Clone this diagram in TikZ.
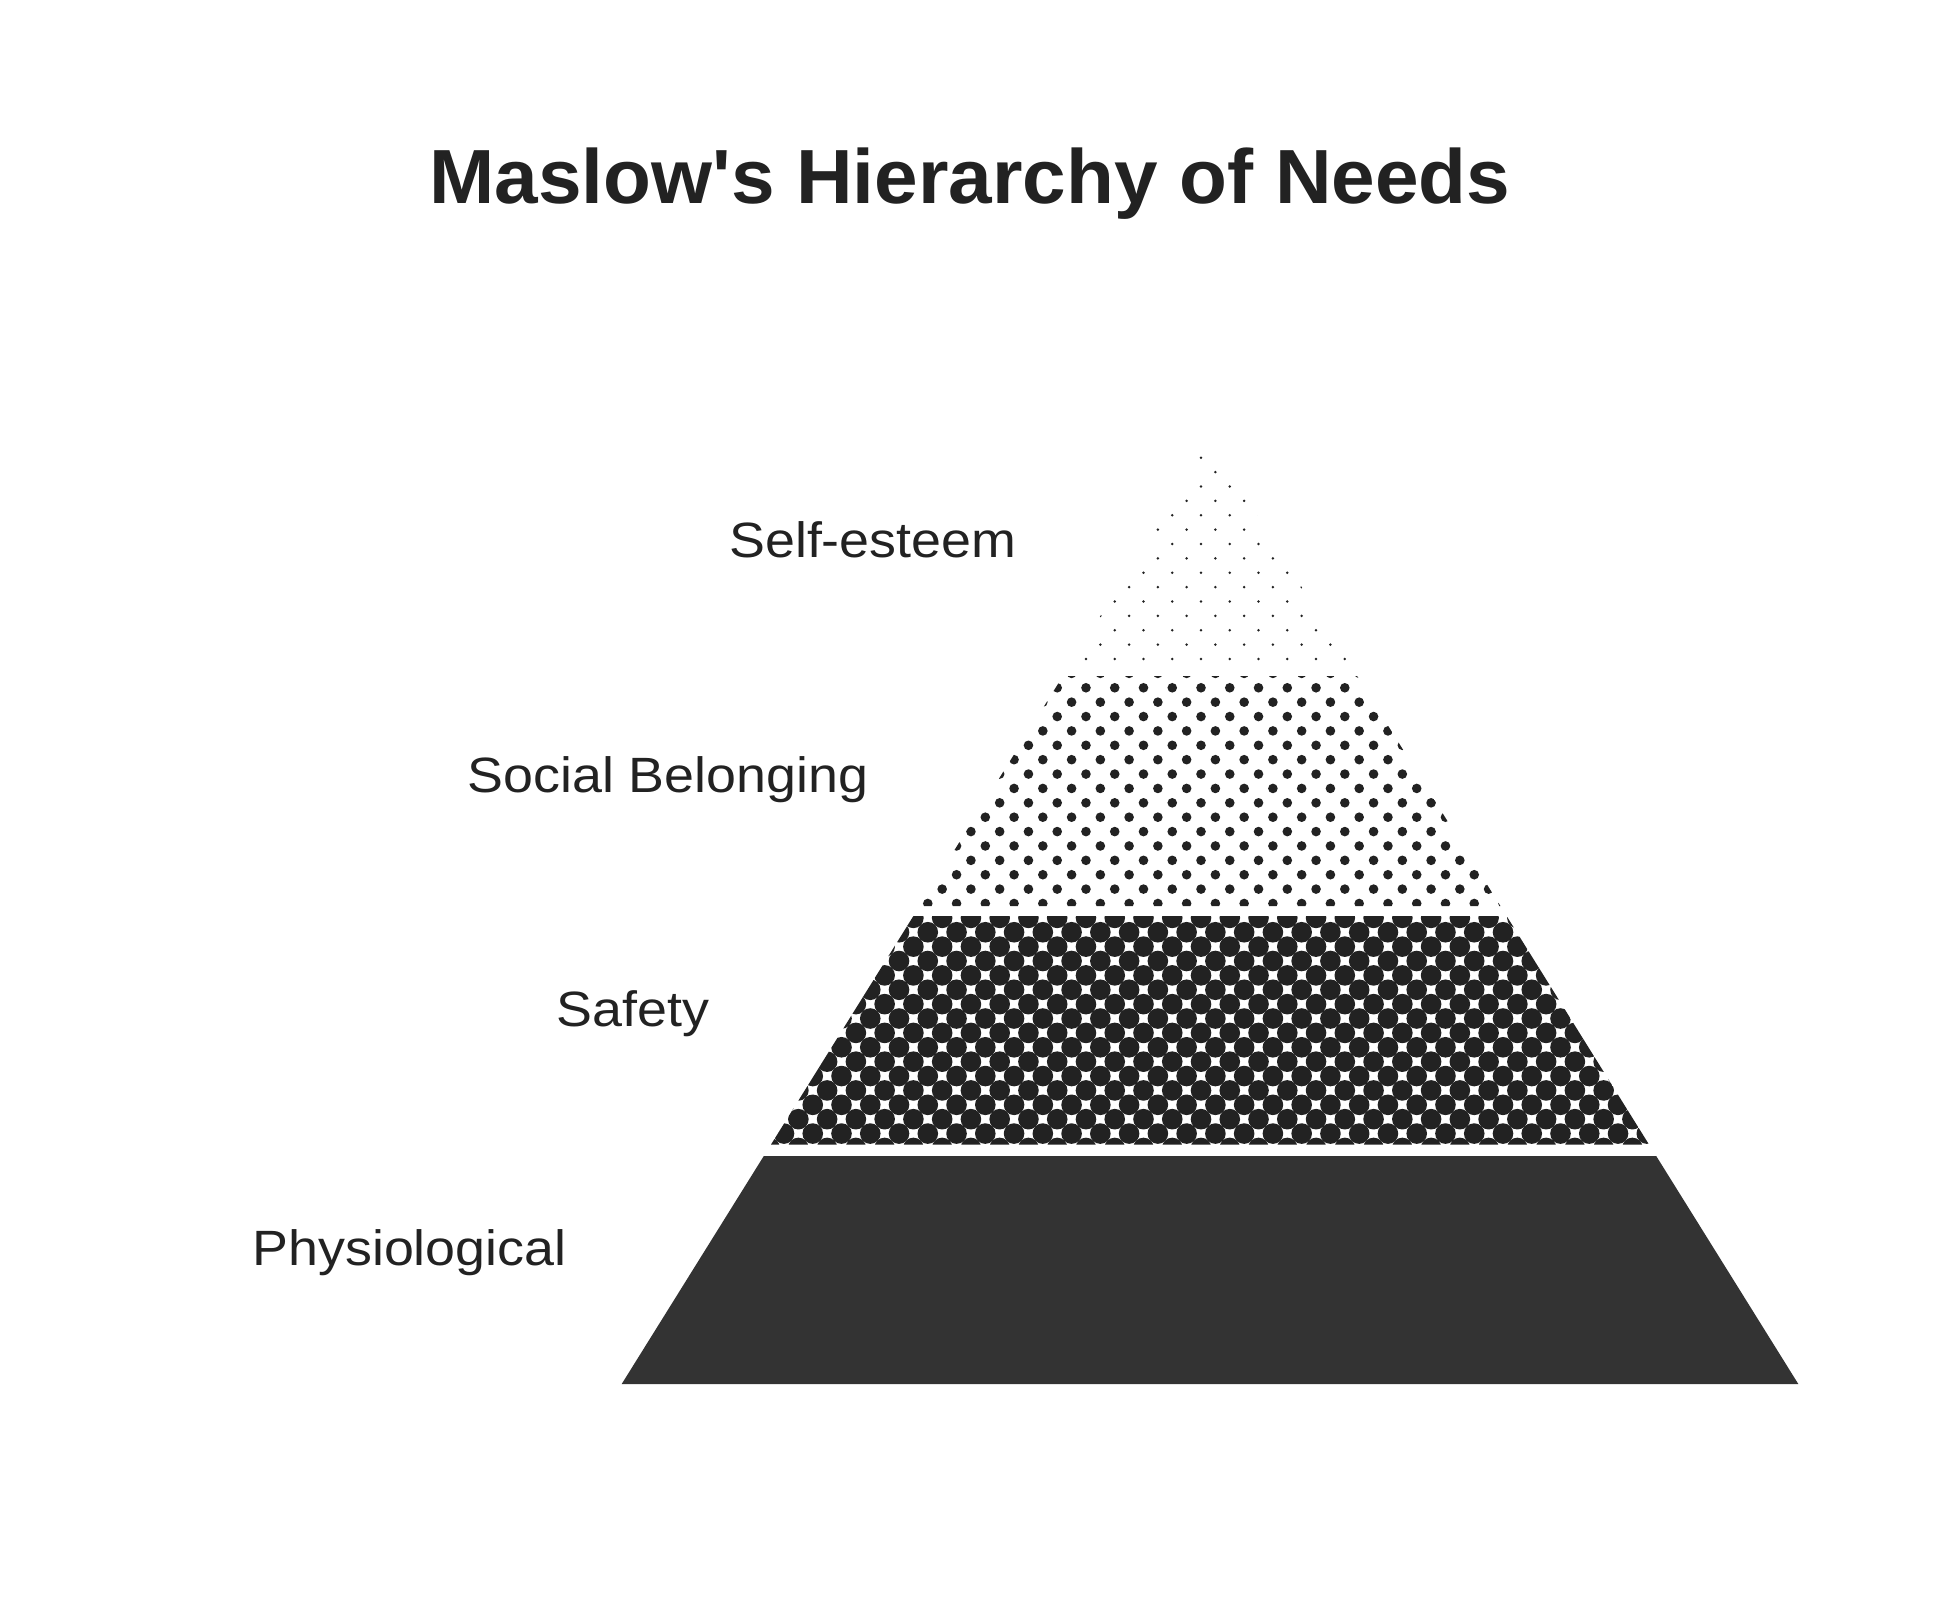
\documentclass[tikz,border=0pt]{standalone}
\usepackage{fontspec}
\setmainfont{Liberation Sans}
\newfontfamily\labelfont[FakeStretch=1.085]{Liberation Sans}
\newfontfamily\titlefont[FakeStretch=1.02]{Liberation Sans}
\definecolor{inkdark}{HTML}{222222}
\definecolor{basedark}{HTML}{333333}
\tikzset{
  titletext/.style={anchor=base, text=inkdark, font=\titlefont\bfseries\fontsize{76.8}{90}\selectfont, inner sep=0pt},
  leveltext/.style={anchor=base, text=inkdark, font=\labelfont\fontsize{49.6}{58}\selectfont, inner sep=0pt},
  dotfill/.style={fill=inkdark},
}
\begin{document}
\begin{tikzpicture}[x=1pt,y=-1pt]
\useasboundingbox (0,0) rectangle (1940,1600);
\fill[white] (0,0) rectangle (1940,1600);

% title
\node[titletext] (title) at (970,203.3) {Maslow's Hierarchy of Needs};

% band outlines (apex 1210,440 ; base 621.7..1798.3 at 1384)
\coordinate (apex) at (1210,440);

% top band: Self-esteem (fine dots)
\begin{scope}
  \clip (apex) -- (1350.8,666) -- (1069.2,666) -- cycle;
  \foreach \j in {-1,...,16}{
    \pgfmathtruncatemacro\off{mod(\j,2)}
    \foreach \m in {-8,...,8}{
      \fill[dotfill] ({1201+(2*\m+\off)*14.38},{457.7+\j*14.38}) circle[radius=1.4pt];
    }
  }
\end{scope}

% social band (medium dots)
\begin{scope}
  \clip (1062.9,676) -- (1357.1,676) -- (1500.4,906) -- (919.6,906) -- cycle;
  \foreach \j in {14,...,33}{
    \pgfmathtruncatemacro\off{mod(\j,2)}
    \foreach \m in {-12,...,12}{
      \fill[dotfill] ({1201+(2*\m+\off)*14.38},{457.7+\j*14.38}) circle[radius=4.8pt];
    }
  }
\end{scope}

% safety band (large overlapping dots)
\begin{scope}
  \clip (913.4,916) -- (1506.6,916) -- (1649,1144.5) -- (771,1144.5) -- cycle;
  \foreach \j in {30,...,49}{
    \pgfmathtruncatemacro\off{mod(\j,2)}
    \foreach \m in {-17,...,17}{
      \fill[dotfill] ({1201+(2*\m+\off)*14.38},{457.7+\j*14.38}) circle[radius=10.3pt];
    }
  }
\end{scope}

% physiological band (solid)
\fill[basedark] (763.8,1156) -- (1656.2,1156) -- (1798.3,1384) -- (621.7,1384) -- cycle;

% labels
\node[leveltext] (selfesteem) at (872.8,557.3) {Self-esteem};
\node[leveltext] (social) at (668,792.7) {Social Belonging};
\node[leveltext] (safety) at (633,1026.7) {Safety};
\node[leveltext] (physio) at (409.5,1265.7) {Physiological};
\end{tikzpicture}
\end{document}
